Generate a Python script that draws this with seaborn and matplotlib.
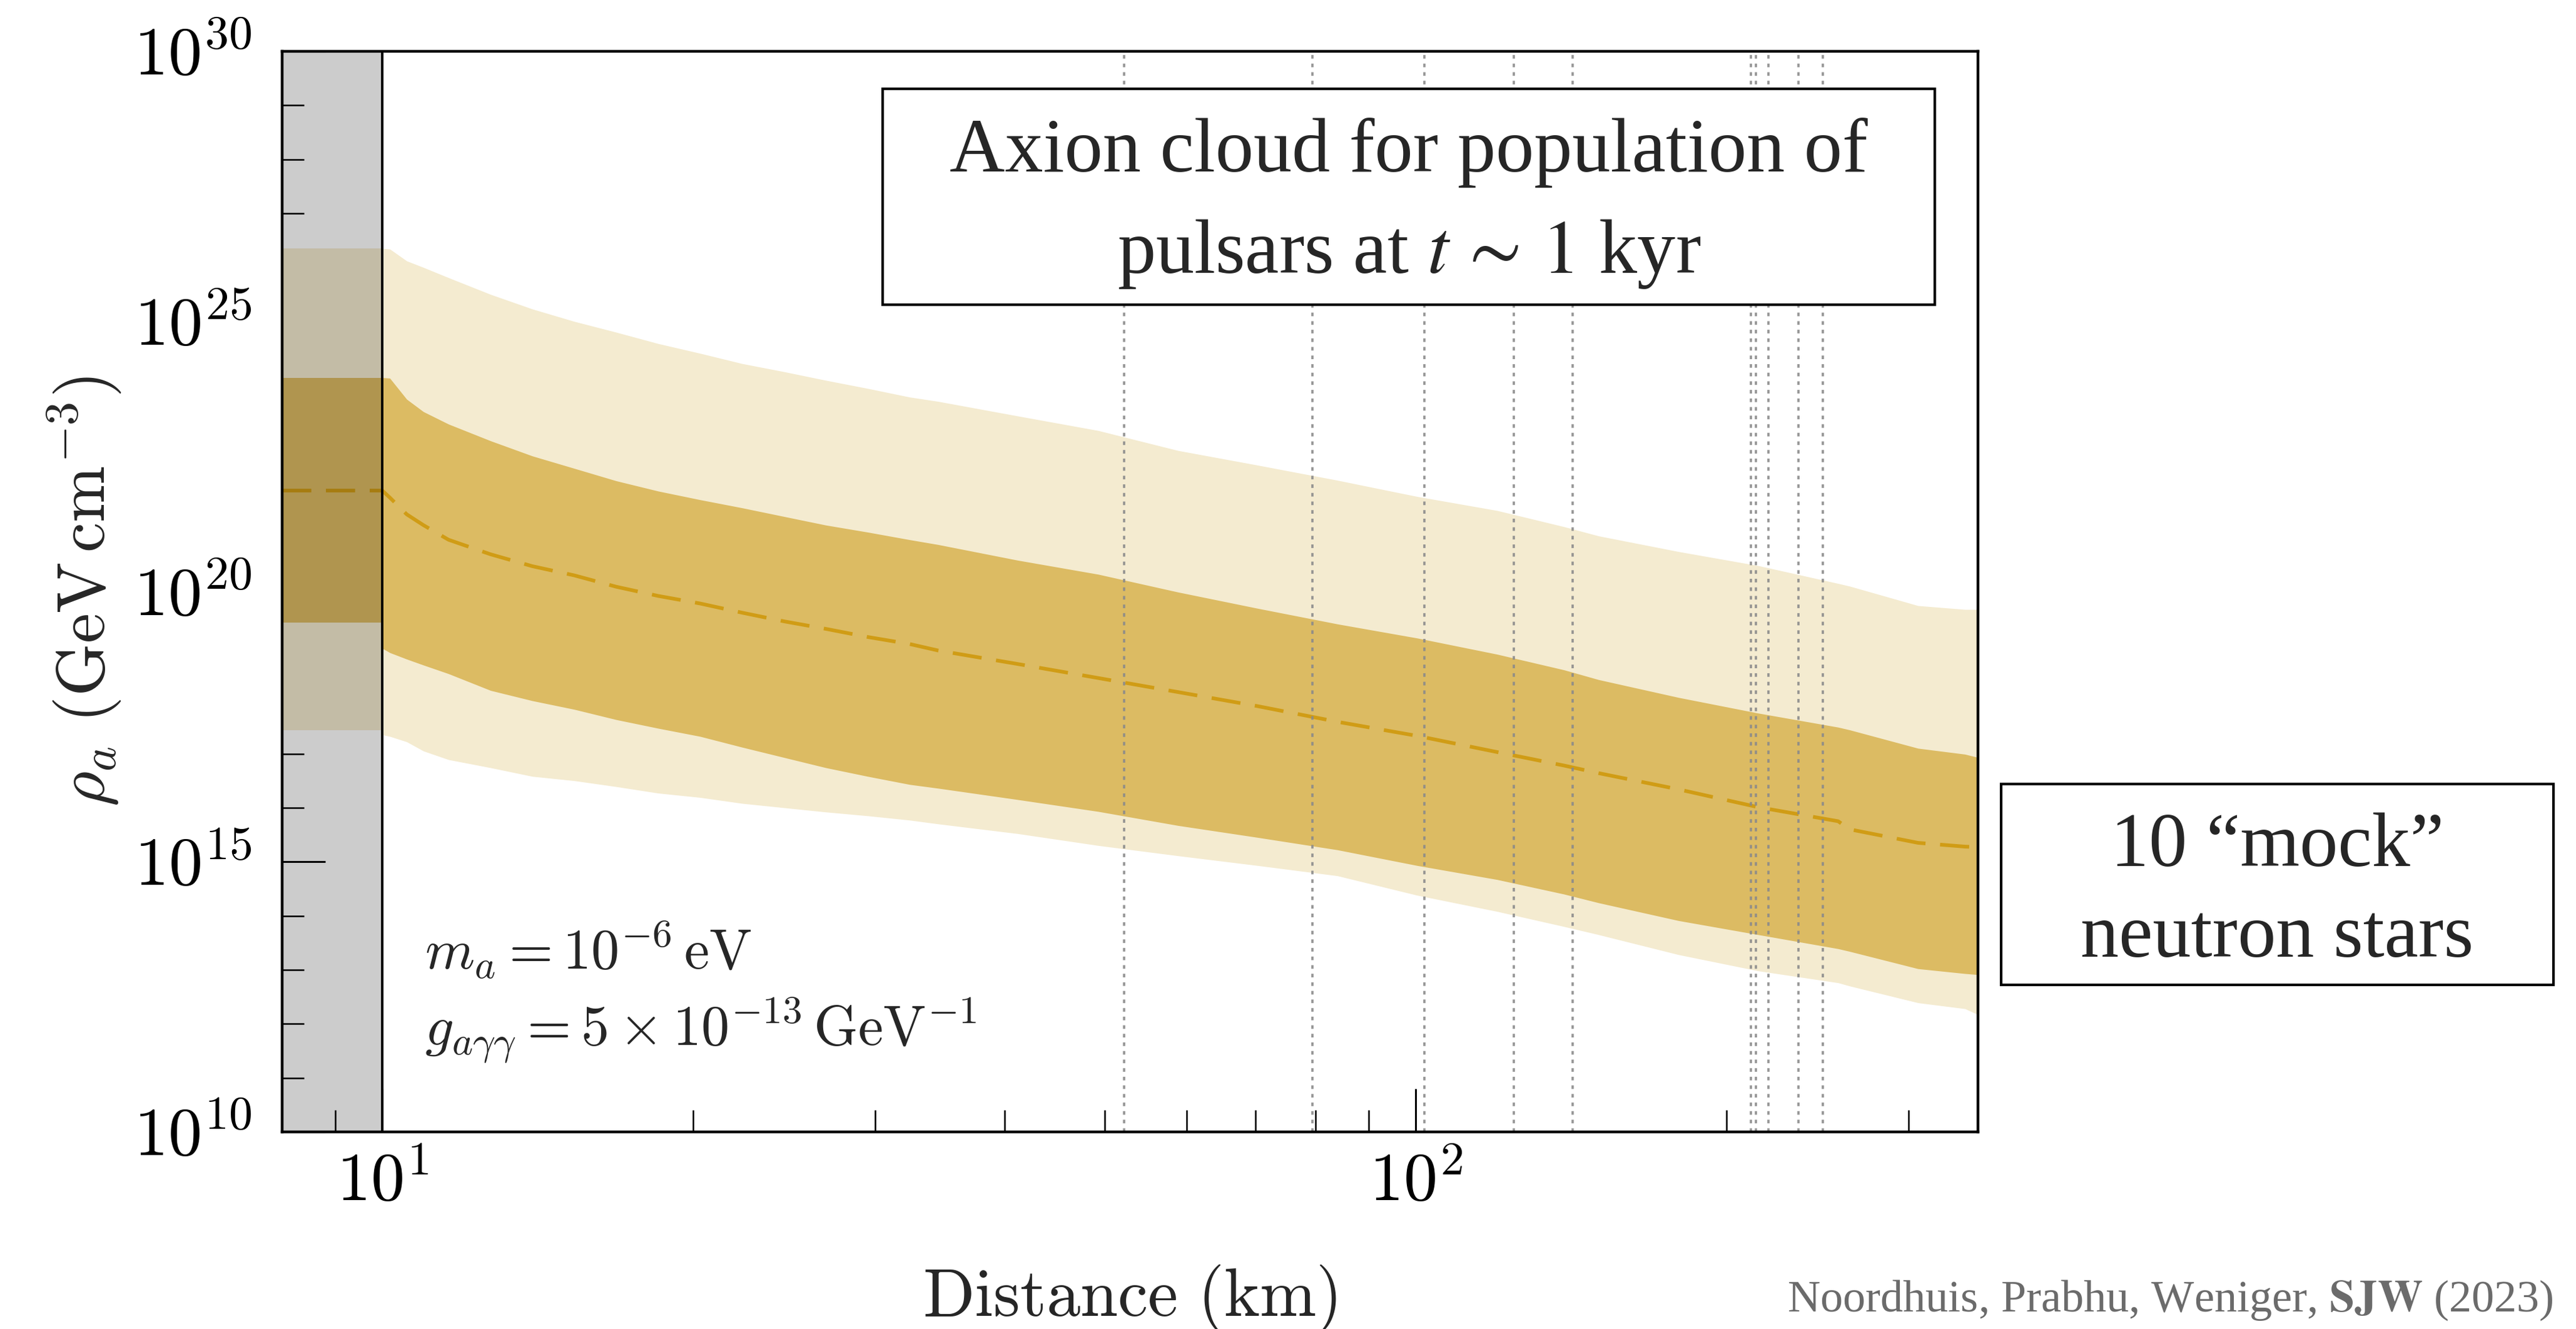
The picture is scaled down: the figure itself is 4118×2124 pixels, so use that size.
import numpy as np
import pandas as pd
import matplotlib
matplotlib.use("Agg")
import matplotlib.pyplot as plt
import matplotlib.ticker as mticker
from matplotlib.patches import Rectangle
import seaborn as sns

# ---------------------------------------------------------------------------
# Data: radial distance from the neutron star (km) and log10 of the axion
# density rho_a (GeV cm^-3) for the 68% / 95% population bands and the median.
# ---------------------------------------------------------------------------
distance_km = [10.0, 10.17, 10.56, 10.96, 11.59, 12.73, 13.97, 15.34, 16.84,
               18.49, 20.30, 22.29, 24.47, 26.87, 29.49, 32.38, 34.5, 41.2,
               49.3, 58.9, 70.3, 84.0, 100.3, 119.9, 139.2, 150.3, 179.6,
               214.5, 256.3, 263.0, 306.2, 340.0, 350.0]

outer_hi = [26.35, 26.34, 26.12, 26.00, 25.81, 25.50, 25.23, 25.00, 24.80,
            24.59, 24.41, 24.22, 24.07, 23.91, 23.76, 23.60, 23.52, 23.25,
            22.98, 22.61, 22.34, 22.06, 21.76, 21.50, 21.20, 21.03, 20.74,
            20.48, 20.15, 20.10, 19.74, 19.67, 19.67]
inner_hi = [23.96, 23.95, 23.56, 23.33, 23.10, 22.79, 22.51, 22.28, 22.05,
            21.86, 21.70, 21.55, 21.39, 21.23, 21.10, 20.96, 20.87, 20.58,
            20.32, 19.99, 19.69, 19.40, 19.14, 18.84, 18.55, 18.37, 18.04,
            17.75, 17.49, 17.44, 17.10, 16.99, 16.93]
median = [21.87, 21.74, 21.43, 21.23, 20.96, 20.69, 20.47, 20.30, 20.09,
          19.92, 19.78, 19.61, 19.45, 19.31, 19.16, 19.03, 18.91, 18.66,
          18.40, 18.14, 17.88, 17.59, 17.33, 17.03, 16.78, 16.64, 16.34,
          16.01, 15.75, 15.60, 15.35, 15.28, 15.27]
inner_lo = [18.95, 18.87, 18.75, 18.64, 18.48, 18.17, 17.98, 17.82, 17.63,
            17.47, 17.32, 17.12, 16.93, 16.74, 16.58, 16.43, 16.36, 16.15,
            15.93, 15.67, 15.45, 15.22, 14.93, 14.67, 14.40, 14.24, 13.91,
            13.65, 13.39, 13.34, 13.02, 12.93, 12.91]
outer_lo = [17.35, 17.32, 17.22, 17.05, 16.89, 16.74, 16.58, 16.50, 16.39,
            16.27, 16.19, 16.08, 16.00, 15.92, 15.85, 15.77, 15.70, 15.52,
            15.30, 15.11, 14.93, 14.74, 14.38, 14.08, 13.80, 13.65, 13.28,
            12.98, 12.76, 12.70, 12.39, 12.28, 12.17]

# Values inside the star (r < R_star): constant bands
core_outer = [17.43, 26.35]
core_inner = [19.43, 23.96]
core_median = 21.87

# Distances of the 10 mock neutron stars (km)
pulsar_km = [52.2, 79.4, 101.9, 124.4, 141.8, 211.1, 213.5, 219.5, 234.5, 247.7]

R_STAR = 10.0
X_MIN, X_MAX = 8.0, 350.0
Y_MIN, Y_MAX = 1e10, 1e30
y_major = [1e10, 1e15, 1e20, 1e25, 1e30]
y_minor = [10.0 ** k for k in range(10, 31)]
x_major = [10, 100]

OUTER = "#f4ebd0"
INNER = "#dcbb63"
LINE = "#d09c15"

# ---------------------------------------------------------------------------
sns.set_theme(style="ticks")
plt.rcParams["font.family"] = ["Liberation Serif", "DejaVu Serif"]
plt.rcParams["mathtext.fontset"] = "cm"

fig = plt.figure(figsize=(41.18, 21.24), dpi=100)
fig.patch.set_facecolor("white")
ax = fig.add_axes([0.10952, 0.14831, 0.65833, 0.81309])
ax.set_facecolor("white")
ax.set_xscale("log")
ax.set_yscale("log")
ax.set_xlim(X_MIN, X_MAX)
ax.set_ylim(Y_MIN, Y_MAX)

d = np.array(distance_km)
p10 = lambda a: 10.0 ** np.asarray(a)

# bands outside the star
ax.fill_between(d, p10(outer_lo), p10(outer_hi), color=OUTER, lw=0, zorder=1)
ax.fill_between(d, p10(inner_lo), p10(inner_hi), color=INNER, lw=0, zorder=2)

# bands inside the star
core_x = [X_MIN, R_STAR]
ax.fill_between(core_x, p10(core_outer[0]), p10(core_outer[1]),
                color=OUTER, lw=0, zorder=1)
ax.fill_between(core_x, p10(core_inner[0]), p10(core_inner[1]),
                color=INNER, lw=0, zorder=2)

# median profile
df = pd.DataFrame({"distance": [X_MIN] + distance_km,
                   "rho": p10([core_median] + median)})
sns.lineplot(data=df, x="distance", y="rho", ax=ax, color=LINE, lw=4.2,
             linestyle=(0, (8, 4)), zorder=2.5, legend=False)

# shaded stellar interior and its surface
ax.axvspan(X_MIN, R_STAR, color="black", alpha=0.2, lw=0, zorder=3)
ax.axvline(R_STAR, color="black", lw=2.8, zorder=3.5)

# mock neutron star distances
for p in pulsar_km:
    ax.axvline(p, color="#8a8a8a", lw=2.6, ls=(0, (1.6, 2.2)), alpha=0.9,
               zorder=4)

# ticks
ax.xaxis.set_major_locator(mticker.FixedLocator(x_major))
ax.xaxis.set_minor_locator(mticker.LogLocator(base=10, subs=np.arange(2, 10)))
ax.yaxis.set_major_locator(mticker.FixedLocator(y_major))
ax.yaxis.set_minor_locator(mticker.FixedLocator(y_minor))
fmt = mticker.FuncFormatter(lambda v, pos: r"$10^{%d}$" % int(round(np.log10(v))))
ax.xaxis.set_major_formatter(fmt)
ax.yaxis.set_major_formatter(fmt)
ax.xaxis.set_minor_formatter(mticker.NullFormatter())
ax.yaxis.set_minor_formatter(mticker.NullFormatter())
ax.tick_params(which="both", direction="in", top=False, right=False,
               color="black", labelcolor="black")
ax.tick_params(which="major", length=50, width=2.2, labelsize=78)
ax.tick_params(which="minor", length=25, width=1.8)
ax.tick_params(axis="x", which="major", pad=25)
ax.tick_params(axis="y", which="major", pad=35)
for s in ax.spines.values():
    s.set_visible(True)
    s.set_color("black")
    s.set_linewidth(3.2)
    s.set_zorder(5)

ax.set_xlabel(r"$\mathrm{Distance\ (km)}$", fontsize=78)
ax.set_ylabel(r"$\rho_a\ (\mathrm{GeV\,cm^{-3}})$", fontsize=78)
ax.xaxis.set_label_coords(0.5, -0.121)
ax.yaxis.set_label_coords(-0.094, 0.5)

# parameters
ax.text(0.0841, 0.1506, r"$m_a = 10^{-6}\,\mathrm{eV}$", transform=ax.transAxes,
        fontsize=65, ha="left", va="baseline", zorder=6)
ax.text(0.0841, 0.0799, r"$g_{a\gamma\gamma} = 5\times10^{-13}\,\mathrm{GeV}^{-1}$",
        transform=ax.transAxes, fontsize=65, ha="left", va="baseline", zorder=6)

# title box
fig.add_artist(Rectangle((0.3426, 0.7707), 0.4085, 0.1624, transform=fig.transFigure,
                         facecolor="white", edgecolor="black", lw=3.0, zorder=10))
fig.text(0.5469, 0.8710, "Axion cloud for population of", fontsize=88,
         ha="center", va="baseline", zorder=11)
fig.text(0.5469, 0.7947, r"pulsars at $t\,\sim\,1$ kyr", fontsize=88,
         ha="center", va="baseline", zorder=11, math_fontfamily="stix")

# side box
fig.add_artist(Rectangle((0.7768, 0.2589), 0.2144, 0.1511, transform=fig.transFigure,
                         facecolor="white", edgecolor="black", lw=3.0, zorder=10))
fig.text(0.8840, 0.3484, "10 \u201cmock\u201d", fontsize=88,
         ha="center", va="baseline", zorder=11)
fig.text(0.8840, 0.2801, "neutron stars", fontsize=88,
         ha="center", va="baseline", zorder=11)

# reference
fig.text(0.6938, 0.0132, r"Noordhuis, Prabhu, Weniger, $\mathbf{SJW}$ (2023)",
         fontsize=52, color="#6b6b6b", ha="left", va="baseline",
         math_fontfamily="stix")

fig.savefig("out.png", dpi=100, facecolor="white")
